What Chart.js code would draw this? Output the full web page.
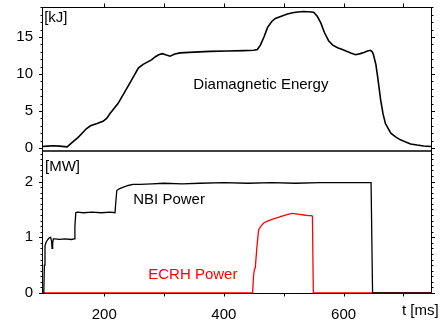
<!DOCTYPE html>
<html>
<head>
<meta charset="utf-8">
<script src="https://cdn.jsdelivr.net/npm/chart.js@4/dist/chart.umd.min.js"></script>
<style>
  html, body { margin: 0; padding: 0; background: #fff; }
</style>
</head>
<body>
<canvas id="c" width="446" height="322"></canvas>
<script>
// diamagnetic energy [kJ]
const tEnergy = [96, 105, 115, 125, 138, 148, 156, 163, 170, 177, 188, 198, 204, 210, 223, 238, 248, 257, 265, 272,
  279, 285, 291, 297, 304, 310, 318, 327, 350, 377, 405, 433, 450, 456, 461, 467, 473, 480, 486, 496,
  506, 517, 528, 533, 541, 550, 556, 562, 568, 575, 582, 590, 597, 603, 612, 620, 628, 634, 640, 645,
  648, 650, 654, 657, 662, 666, 670, 679, 687, 695, 704, 712, 723, 734, 747];
const energy = [0.2, 0.25, 0.3, 0.25, 0.15, 0.85, 1.4, 2.0, 2.6, 3.0, 3.3, 3.6, 4.0, 4.7, 6.0, 8.1, 9.5, 10.8, 11.3, 11.6,
  11.9, 12.3, 12.6, 12.75, 12.55, 12.4, 12.7, 12.85, 12.95, 13.05, 13.1, 13.15, 13.2, 13.3, 13.9, 15.0, 16.3, 17.1, 17.5, 17.8,
  18.1, 18.3, 18.4, 18.45, 18.4, 18.35, 17.8, 16.9, 15.6, 14.5, 13.9, 13.55, 13.35, 13.15, 12.85, 12.6, 12.75, 12.9, 13.1, 13.2,
  13.0, 12.6, 11.3, 9.6, 6.5, 4.6, 3.3, 2.0, 1.5, 1.1, 0.8, 0.55, 0.4, 0.28, 0.2];

// NBI power [MW]
const tNbi = [96, 99, 100, 101, 102.5, 105, 108, 110.5, 112, 112.8, 113.8, 115, 118, 125, 135, 145, 149.5, 151, 152.5, 155,
  165, 180, 195, 210, 218, 219.5, 221, 225, 232, 240, 248, 260, 280, 300, 330, 360, 400, 440, 480, 520,
  560, 600, 630, 646, 648.5, 660, 700, 747];
const nbi = [0, 0, 0.5, 0.84, 0.9, 0.95, 0.99, 1.0, 0.93, 0.8, 0.9, 0.97, 0.97, 0.96, 0.97, 0.96, 0.97, 1.2, 1.44, 1.45,
  1.44, 1.45, 1.44, 1.45, 1.44, 1.65, 1.84, 1.87, 1.9, 1.93, 1.95, 1.95, 1.96, 1.97, 1.96, 1.97, 1.98, 1.97, 1.98, 1.97,
  1.98, 1.98, 1.98, 1.98, 0, 0, 0, 0];

// ECRH power [MW]
const tEcrh = [96, 448, 449.5, 451, 452.5, 455, 458, 462, 467, 475, 483, 492, 500, 507, 514, 520, 527, 534, 541, 546,
  548, 549.5, 747];
const ecrh = [0, 0, 0.3, 0.42, 0.45, 0.8, 1.13, 1.2, 1.26, 1.3, 1.33, 1.36, 1.39, 1.41, 1.43, 1.42, 1.41, 1.40, 1.39, 1.39,
  1.38, 0, 0];

const xLabelled = [200, 400, 600];
const xMarks = [200, 300, 400, 500, 600, 700];

Chart.defaults.font.family = "'Liberation Sans', Arial, sans-serif";
Chart.defaults.font.size = 15;
Chart.defaults.color = '#000';

const pts = (xs, ys) => xs.map((x, i) => ({ x, y: ys[i] }));

// keep the plot box where it is: no extra room for half labels
const fitY = s => { s.width = 42; s.paddingTop = 0; s.paddingBottom = 0; };
const fitX = s => { s.height = 28; s.paddingLeft = 0; s.paddingRight = 0; };

// frame, divider and the little tick marks
const frame = {
  id: 'frame',
  beforeDatasetsDraw(chart) {
    const { ctx, chartArea: a, scales } = chart;
    const L = Math.round(a.left) + 0.5, R = Math.round(a.right) - 0.5;
    const T = Math.round(a.top) + 0.5, B = Math.round(a.bottom) - 0.5;
    const mid = Math.round(scales.yE.bottom);
    ctx.save();
    ctx.strokeStyle = '#000';
    ctx.lineWidth = 1;
    ctx.strokeRect(L, T, R - L, B - T);
    ctx.lineWidth = 1.5;
    ctx.beginPath(); ctx.moveTo(L, mid); ctx.lineTo(R, mid); ctx.stroke();
    ctx.lineWidth = 1;

    const yt = (scale, vals, majorEvery) => {
      vals.forEach((v, i) => {
        const y = Math.round(scale.getPixelForValue(v)) + 0.5;
        const len = i % majorEvery === 0 ? 3.5 : 2;
        ctx.beginPath();
        ctx.moveTo(L - len, y); ctx.lineTo(L, y);
        ctx.moveTo(R, y); ctx.lineTo(R + len, y);
        ctx.stroke();
      });
    };
    const eVals = [], pVals = [];
    for (let i = 0; i <= 19; i++) eVals.push(i);
    for (let i = 0; i <= 25; i++) pVals.push(i / 10);
    yt(scales.yE, eVals, 5);
    yt(scales.yP, pVals, 10);

    xMarks.forEach(v => {
      const x = Math.round(scales.x.getPixelForValue(v)) + 0.5;
      ctx.beginPath();
      ctx.moveTo(x, T); ctx.lineTo(x, T - 4);
      ctx.moveTo(x, B); ctx.lineTo(x, B + 3);
      ctx.stroke();
    });
    ctx.restore();
  },
  afterDraw(chart) {
    const { ctx, scales } = chart;
    const { x, yE, yP } = scales;
    ctx.save();
    ctx.font = "15px 'Liberation Sans', Arial, sans-serif";
    ctx.textBaseline = 'middle';
    ctx.textAlign = 'left';
    ctx.fillStyle = '#000';
    ctx.fillText('[kJ]', x.getPixelForValue(99.6), yE.getPixelForValue(17.6));
    ctx.fillText('Diamagnetic Energy', x.getPixelForValue(349), yE.getPixelForValue(8.5));
    ctx.fillText('[MW]', x.getPixelForValue(101), yP.getPixelForValue(2.27));
    ctx.fillText('NBI Power', x.getPixelForValue(248.5), yP.getPixelForValue(1.68));
    ctx.fillStyle = '#ff0000';
    ctx.fillText('ECRH Power', x.getPixelForValue(273.6), yP.getPixelForValue(0.33));
    ctx.fillStyle = '#000';
    ctx.textAlign = 'right';
    ctx.fillText('t [ms]', x.getPixelForValue(759), x.top + 17);
    ctx.restore();
  }
};

new Chart(document.getElementById('c'), {
  type: 'line',
  data: {
    datasets: [
      { data: pts(tEnergy, energy), yAxisID: 'yE', borderColor: '#000', borderWidth: 1.6, pointRadius: 0 },
      { data: pts(tNbi, nbi), yAxisID: 'yP', borderColor: '#000', borderWidth: 1.3, pointRadius: 0 },
      { data: pts(tEcrh, ecrh), yAxisID: 'yP', borderColor: '#ff0000', borderWidth: 1.3, pointRadius: 0 }
    ]
  },
  options: {
    responsive: false,
    animation: false,
    events: [],
    layout: { padding: { top: 7, right: 14.5, left: 0, bottom: 0 } },
    plugins: { legend: { display: false }, tooltip: { enabled: false } },
    scales: {
      x: {
        type: 'linear', min: 96, max: 747, position: 'bottom',
        grid: { display: false, drawTicks: false }, border: { display: false },
        ticks: {
          stepSize: 100, autoSkip: false, maxRotation: 0, includeBounds: false, padding: 12,
          callback: v => xLabelled.includes(v) ? String(v) : ''
        },
        afterFit: fitX
      },
      yP: {
        type: 'linear', position: 'left', stack: 'panels', stackWeight: 143, weight: 1,
        min: -0.02, max: 2.55,
        grid: { display: false, drawTicks: false }, border: { display: false },
        ticks: { stepSize: 1, includeBounds: false, padding: 9 },
        afterFit: fitY
      },
      yE: {
        type: 'linear', position: 'left', stack: 'panels', stackWeight: 144, weight: 2,
        min: -0.405, max: 19.05,
        grid: { display: false, drawTicks: false }, border: { display: false },
        ticks: { stepSize: 5, includeBounds: false, padding: 9 },
        afterFit: fitY
      }
    }
  },
  plugins: [frame]
});
</script>
</body>
</html>
